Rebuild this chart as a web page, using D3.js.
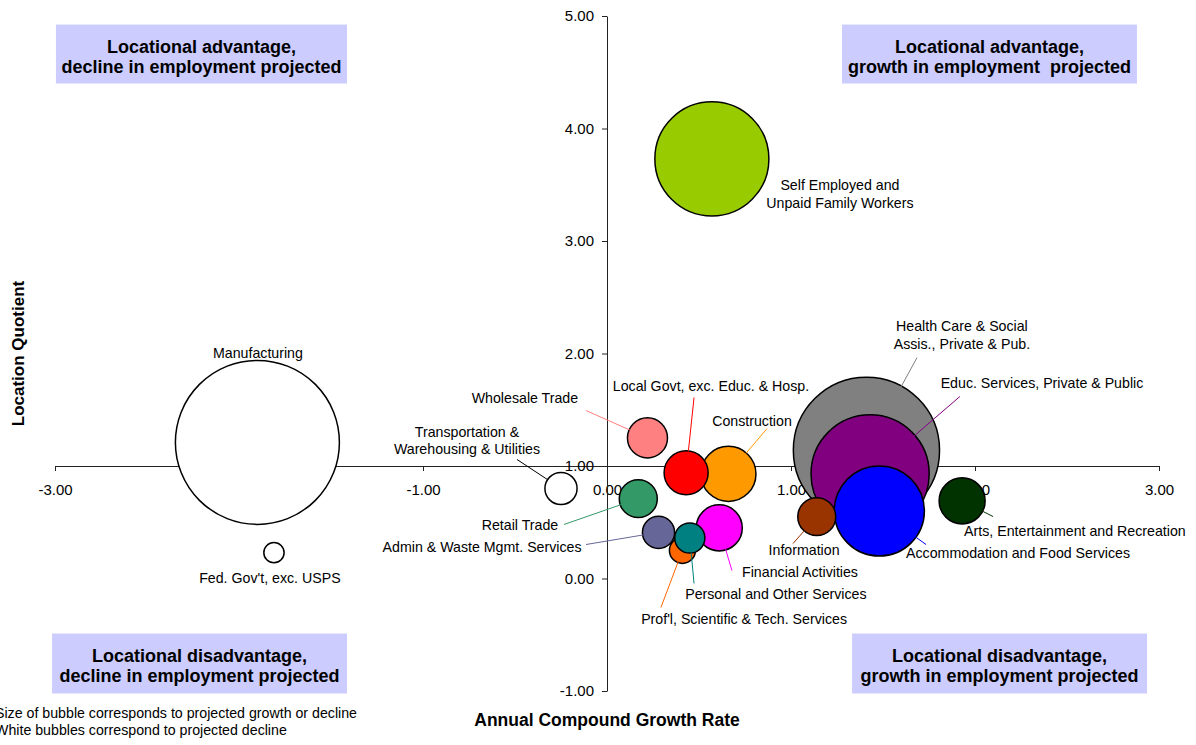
<!DOCTYPE html>
<html>
<head>
<meta charset="utf-8">
<script src="https://cdn.jsdelivr.net/npm/d3@7"></script>
<style>
  body { margin: 0; background: #fff; }
  svg { display: block; font-family: "Liberation Sans", Arial, sans-serif; }
</style>
</head>
<body>
<script>
// industries, drawn in this order (later ones sit on top)
const industries = [
    "Manufacturing",
    "Fed. Gov't, exc. USPS",
    "Transportation & Warehousing & Utilities",
    "Self Employed and Unpaid Family Workers",
    "Health Care & Social Assis., Private & Pub.",
    "Educ. Services, Private & Public",
    "Accommodation and Food Services",
    "Information",
    "Arts, Entertainment and Recreation",
    "Construction",
    "Local Govt, exc. Educ. & Hosp.",
    "Wholesale Trade",
    "Retail Trade",
    "Financial Activities",
    "Prof'l, Scientific & Tech. Services",
    "Admin & Waste Mgmt. Services",
    "Personal and Other Services"
];
const growthRate = [-1.90, -1.81, -0.25, 0.57, 1.41, 1.43, 1.48, 1.14, 1.93, 0.66, 0.43, 0.22, 0.17, 0.61, 0.41, 0.28, 0.45];
const locationQuotient = [1.21, 0.23, 0.80, 3.73, 1.14, 0.93, 0.60, 0.55, 0.69, 0.93, 0.94, 1.25, 0.71, 0.45, 0.25, 0.41, 0.36];
const projectedChange = [15100, 230, 580, 7300, 12000, 7840, 4560, 810, 1190, 1700, 1090, 900, 810, 1190, 380, 580, 510];
const bubbleColors = ["#FFFFFF", "#FFFFFF", "#FFFFFF", "#99CC00", "#808080", "#800080", "#0000FF", "#993300",
    "#003300", "#FF9900", "#FF0000", "#FF8080", "#339966", "#FF00FF", "#FF6600", "#666699", "#008080"];

const xTicks = [-3, -2, -1, 0, 1, 2, 3];
const yTicks = [-1, 0, 1, 2, 3, 4, 5];

const quadrants = [
    { lines: ["Locational advantage,", "decline in employment projected"], x0: -2.995, x1: -1.413, top: 4.924, bottom: 4.40 },
    { lines: ["Locational advantage,", "growth in employment  projected"], x0: 1.277, x1: 2.880, top: 4.924, bottom: 4.40 },
    { lines: ["Locational disadvantage,", "decline in employment projected"], x0: -3.016, x1: -1.413, top: -0.489, bottom: -1.022 },
    { lines: ["Locational disadvantage,", "growth in employment projected"], x0: 1.332, x1: 2.935, top: -0.489, bottom: -1.022 }
];

// label placement in data units; "from" is where the leader line starts
const labelLayout = {
    "Manufacturing": { lines: ["Manufacturing"], at: [-1.897, 1.964] },
    "Fed. Gov't, exc. USPS": { lines: ["Fed. Gov't, exc. USPS"], at: [-1.832, -0.044] },
    "Transportation & Warehousing & Utilities": { lines: ["Transportation &", "Warehousing & Utilities"], at: [-0.761, 1.262], from: [-0.489, 1.058] },
    "Self Employed and Unpaid Family Workers": { lines: ["Self Employed and", "Unpaid Family Workers"], at: [1.266, 3.449] },
    "Health Care & Social Assis., Private & Pub.": { lines: ["Health Care & Social", "Assis., Private & Pub."], at: [1.929, 2.196], from: [1.685, 1.964] },
    "Educ. Services, Private & Public": { lines: ["Educ. Services, Private & Public"], at: [2.364, 1.689], from: [1.918, 1.618] },
    "Accommodation and Food Services": { lines: ["Accommodation and Food Services"], at: [2.234, 0.178], from: [1.734, 0.302] },
    "Information": { lines: ["Information"], at: [1.071, 0.213], from: [1.011, 0.311] },
    "Arts, Entertainment and Recreation": { lines: ["Arts, Entertainment and Recreation"], at: [2.543, 0.382], from: [2.098, 0.551] },
    "Construction": { lines: ["Construction"], at: [0.788, 1.36], from: [0.870, 1.333] },
    "Local Govt, exc. Educ. & Hosp.": { lines: ["Local Govt, exc. Educ. & Hosp."], at: [0.565, 1.671], from: [0.473, 1.609] },
    "Wholesale Trade": { lines: ["Wholesale Trade"], at: [-0.446, 1.564], from: [-0.114, 1.493] },
    "Retail Trade": { lines: ["Retail Trade"], at: [-0.473, 0.427], from: [-0.234, 0.48] },
    "Financial Activities": { lines: ["Financial Activities"], at: [1.049, 0.009], from: [0.679, 0.071] },
    "Prof'l, Scientific & Tech. Services": { lines: ["Prof'l, Scientific & Tech. Services"], at: [0.745, -0.40], from: [0.293, -0.258] },
    "Admin & Waste Mgmt. Services": { lines: ["Admin & Waste Mgmt. Services"], at: [-0.679, 0.24], from: [-0.114, 0.302] },
    "Personal and Other Services": { lines: ["Personal and Other Services"], at: [0.918, -0.178], from: [0.473, -0.044] }
};

const width = 1196;
const height = 745;

const data = industries.map((name, i) => ({
    name,
    growth: growthRate[i],
    lq: locationQuotient[i],
    size: projectedChange[i],
    color: bubbleColors[i]
}));

const x = d3.scaleLinear().domain([-3, 3]).range([55, 1159]);
const y = d3.scaleLinear().domain([-1, 5]).range([691, 16]);
const r = d3.scaleSqrt().domain([0, d3.max(projectedChange)]).range([0, 82]);
const fmt = d => d.toFixed(2);

const svg = d3.select("body").append("svg")
    .attr("width", width)
    .attr("height", height)
    .attr("viewBox", [0, 0, width, height]);

// quadrant captions
const quad = svg.append("g")
    .selectAll("g")
    .data(quadrants)
    .join("g");

quad.append("rect")
    .attr("x", d => x(d.x0))
    .attr("y", d => y(d.top))
    .attr("width", d => x(d.x1) - x(d.x0))
    .attr("height", d => y(d.bottom) - y(d.top))
    .attr("fill", "#CCCCFF");

quad.selectAll("text")
    .data(d => d.lines.map((t, i) => ({ t, i, q: d })))
    .join("text")
    .attr("x", d => (x(d.q.x0) + x(d.q.x1)) / 2)
    .attr("y", d => y(d.q.top) + 28 + d.i * 20)
    .attr("text-anchor", "middle")
    .attr("font-size", 18)
    .attr("font-weight", "bold")
    .style("white-space", "pre")
    .text(d => d.t);

// axes cross at growth 0 and LQ 1
const xAxis = svg.append("g")
    .attr("transform", `translate(0,${y(1)})`)
    .call(d3.axisBottom(x)
        .tickValues(xTicks)
        .tickFormat(fmt)
        .tickSize(5)
        .tickSizeOuter(0)
        .tickPadding(13));

const yAxis = svg.append("g")
    .attr("transform", `translate(${x(0)},0)`)
    .call(d3.axisLeft(y)
        .tickValues(yTicks)
        .tickFormat(fmt)
        .tickSize(5)
        .tickSizeOuter(0)
        .tickPadding(8));

[xAxis, yAxis].forEach(a => {
    a.selectAll("path, line").attr("stroke", "#222");
    a.selectAll("text")
        .attr("font-size", 15)
        .attr("font-family", "\"Liberation Sans\", Arial, sans-serif")
        .attr("fill", "#000");
});

// bubbles
svg.append("g")
    .attr("stroke", "#000")
    .attr("stroke-width", 1.5)
    .selectAll("circle")
    .data(data)
    .join("circle")
    .attr("cx", d => x(d.growth))
    .attr("cy", d => y(d.lq))
    .attr("r", d => r(d.size))
    .attr("fill", d => d.color);

// leader lines
const withLeader = data.filter(d => labelLayout[d.name].from);
svg.append("g")
    .selectAll("line")
    .data(withLeader)
    .join("line")
    .each(function(d) {
        const L = labelLayout[d.name];
        const sx = x(L.from[0]), sy = y(L.from[1]);
        const cx = x(d.growth), cy = y(d.lq);
        const len = Math.hypot(sx - cx, sy - cy);
        const k = r(d.size) * 0.97 / len;
        d3.select(this)
            .attr("x1", sx).attr("y1", sy)
            .attr("x2", cx + (sx - cx) * k)
            .attr("y2", cy + (sy - cy) * k);
    })
    .attr("stroke", d => d.color === "#FFFFFF" ? "#000" : d.color)
    .attr("stroke-width", 1);

// labels
svg.append("g")
    .attr("font-size", 14.2)
    .attr("text-anchor", "middle")
    .selectAll("text")
    .data(data)
    .join("text")
    .attr("x", d => x(labelLayout[d.name].at[0]))
    .attr("y", d => y(labelLayout[d.name].at[1]))
    .selectAll("tspan")
    .data(d => labelLayout[d.name].lines.map((t, i) => ({ t, i, d })))
    .join("tspan")
    .attr("x", o => x(labelLayout[o.d.name].at[0]))
    .attr("dy", o => o.i === 0 ? 0 : 17.5)
    .text(o => o.t);

// axis titles
svg.append("text")
    .attr("x", x(0))
    .attr("y", 726)
    .attr("text-anchor", "middle")
    .attr("font-size", 17.5)
    .attr("font-weight", "bold")
    .text("Annual Compound Growth Rate");

svg.append("text")
    .attr("transform", `translate(24,${y(2.0)}) rotate(-90)`)
    .attr("text-anchor", "middle")
    .attr("font-size", 17)
    .attr("font-weight", "bold")
    .text("Location Quotient");

// notes
svg.append("g")
    .attr("font-size", 14.2)
    .selectAll("text")
    .data(["Size of bubble corresponds to projected growth or decline", "White bubbles correspond to projected decline"])
    .join("text")
    .attr("x", -5)
    .attr("y", (d, i) => 718 + i * 17)
    .text(d => d);
</script>
</body>
</html>
